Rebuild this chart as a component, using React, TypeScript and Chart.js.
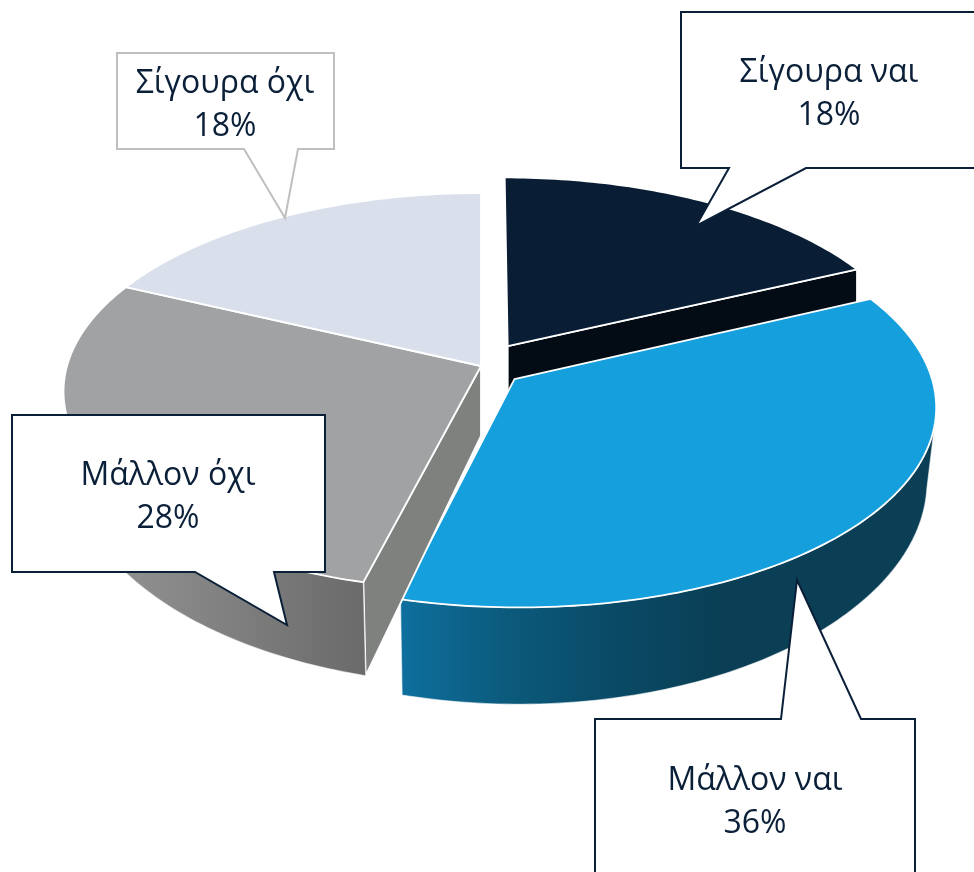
import React, { useEffect, useRef } from "react";
import { Chart, registerables } from "chart.js";

Chart.register(...registerables);

const categories = ["Σίγουρα ναι", "Μάλλον ναι", "Μάλλον όχι", "Σίγουρα όχι"];
const values = [18, 36, 28, 18];
const explode = [0.122, 0.104, 0, 0];
const topColors = ["#091e35", "#159fdc", "#a0a2a4", "#d9dfeb"];
const faceColors = ["#030c15", "#0a3f55", "#7f817f", "#b0b5c0"];
const wallStops: string[][] = [
  ["#030c15", "#030c15"],
  ["#0e6f9e", "#0b5a7c", "#0a4a66", "#0a3f55"],
  ["#9a9a9b", "#6a6a6b"],
  ["#b0b5c0", "#b0b5c0"],
];
const visibleFaces = ["end", "", "start", ""];

const TILT = 0.4717;
const PERSPECTIVE = 0.129;
const BOTTOM_SHRINK = 0.02;
const DEG = Math.PI / 180;
const WALL_FROM = 10 * DEG;
const WALL_TO = 170 * DEG;

type Callout = { index: number; box: number[][]; stroke: string; cx: number; y1: number; y2: number };
const callouts: Callout[] = [
  { index: 0, stroke: "#0a1f38", cx: 829, y1: 82, y2: 125,
    box: [[681, 12], [980, 12], [980, 168], [806, 168], [696, 226], [729, 168], [681, 168]] },
  { index: 3, stroke: "#bfbfbf", cx: 225, y1: 93, y2: 136,
    box: [[117, 53], [334, 53], [334, 149], [298, 149], [285, 218], [244, 149], [117, 149]] },
  { index: 2, stroke: "#0a1f38", cx: 168, y1: 485, y2: 528,
    box: [[12, 415], [325, 415], [325, 572], [274, 572], [287, 625], [195, 572], [12, 572]] },
  { index: 1, stroke: "#0a1f38", cx: 755, y1: 790, y2: 833,
    box: [[595, 719], [781, 719], [797, 580], [861, 719], [915, 719], [915, 880], [595, 880]] },
];

const pie3d = {
  id: "pie3d",
  beforeDatasetsDraw(chart: any) {
    const ctx: CanvasRenderingContext2D = chart.ctx;
    const arcs = chart.getDatasetMeta(0).data;
    arcs.forEach((arc: any, i: number) => {
      const { x: cx, y: cy, startAngle: a0, endAngle: a1, outerRadius: R } = arc;
      const mid = (a0 + a1) / 2;
      const ox = Math.cos(mid) * explode[i];
      const oy = Math.sin(mid) * explode[i];
      const top = (r: number, a: number) => {
        const u = ox + r * Math.cos(a);
        const v = oy + r * Math.sin(a);
        const w = 1 - PERSPECTIVE * v;
        return { x: cx + (R * u) / w, y: cy + (TILT * R * v) / w, v };
      };
      const bottom = (r: number, a: number) => {
        const p = top(r, a);
        const shrink = 1 - BOTTOM_SHRINK * Math.min(1, Math.max(0, p.v / 0.2));
        return { x: cx + (p.x - cx) * shrink, y: p.y + 70 / (1 - 0.26 * p.v) };
      };
      const angles = (from: number, to: number) => {
        const n = Math.max(2, Math.ceil((to - from) / DEG));
        return Array.from({ length: n + 1 }, (_, k) => from + ((to - from) * k) / n);
      };
      const path = (pts: { x: number; y: number }[]) => {
        ctx.beginPath();
        pts.forEach((p, k) => (k ? ctx.lineTo(p.x, p.y) : ctx.moveTo(p.x, p.y)));
        ctx.closePath();
      };
      ctx.save();
      ctx.lineJoin = "round";
      ctx.strokeStyle = "#ffffff";
      ctx.lineWidth = 1.8;

      // radial cut face
      const faceAngle = visibleFaces[i] === "start" ? a0 : visibleFaces[i] === "end" ? a1 : null;
      if (faceAngle !== null) {
        path([top(0, 0), top(1, faceAngle), bottom(1, faceAngle), bottom(0, 0)]);
        ctx.fillStyle = faceColors[i];
        ctx.fill();
        ctx.stroke();
      }

      // outer wall
      const wa = Math.max(a0, WALL_FROM);
      const wb = Math.min(a1, WALL_TO);
      if (wb > wa) {
        const as = angles(wa, wb);
        const pts = [...as.map((a) => top(1, a)), ...as.slice().reverse().map((a) => bottom(1, a))];
        const xs = pts.map((p) => p.x);
        const minX = Math.min(...xs);
        const span = i === 1 ? 320 : Math.max(...xs) - minX;
        const g = ctx.createLinearGradient(minX, 0, minX + span, 0);
        wallStops[i].forEach((c, k, l) => g.addColorStop(k / (l.length - 1), c));
        path(pts);
        ctx.fillStyle = g;
        ctx.fill();
        ctx.lineWidth = 1.2;
        ctx.strokeStyle = "rgba(255,255,255,0.6)";
        ctx.stroke();
        ctx.strokeStyle = "#ffffff";
        ctx.lineWidth = 1.8;
      }

      // top face
      path([top(0, 0), ...angles(a0, a1).map((a) => top(1, a))]);
      ctx.fillStyle = arc.options.backgroundColor;
      ctx.fill();
      ctx.stroke();
      ctx.restore();
    });
    return false;
  },
  afterDraw(chart: any) {
    const ctx: CanvasRenderingContext2D = chart.ctx;
    callouts.forEach((c) => {
      ctx.save();
      ctx.beginPath();
      c.box.forEach(([x, y], k) => (k ? ctx.lineTo(x, y) : ctx.moveTo(x, y)));
      ctx.closePath();
      ctx.fillStyle = "#ffffff";
      ctx.fill();
      ctx.lineWidth = 2;
      ctx.lineJoin = "miter";
      ctx.strokeStyle = c.stroke;
      ctx.stroke();
      ctx.fillStyle = "#0a1f38";
      ctx.font = '32px "Open Sans"';
      ctx.textAlign = "center";
      ctx.textBaseline = "alphabetic";
      ctx.fillText(categories[c.index], c.cx, c.y1);
      ctx.fillText(`${values[c.index]}%`, c.cx, c.y2);
      ctx.restore();
    });
  },
};

export default function App() {
  const ref = useRef<HTMLCanvasElement>(null);
  useEffect(() => {
    document.body.style.margin = "0";
    const chart = new Chart(ref.current!, {
      type: "pie",
      data: {
        labels: categories,
        datasets: [{ data: values, backgroundColor: topColors, borderColor: "#ffffff", borderWidth: 2 }],
      },
      options: {
        animation: false,
        responsive: false,
        radius: 414,
        layout: { padding: { left: 0, right: 12, top: 0, bottom: 140 } },
        plugins: { legend: { display: false }, tooltip: { enabled: false } },
      } as any,
      plugins: [pie3d as any],
    });
    return () => chart.destroy();
  }, []);
  return <canvas ref={ref} width={974} height={872} style={{ display: "block" }} />;
}
